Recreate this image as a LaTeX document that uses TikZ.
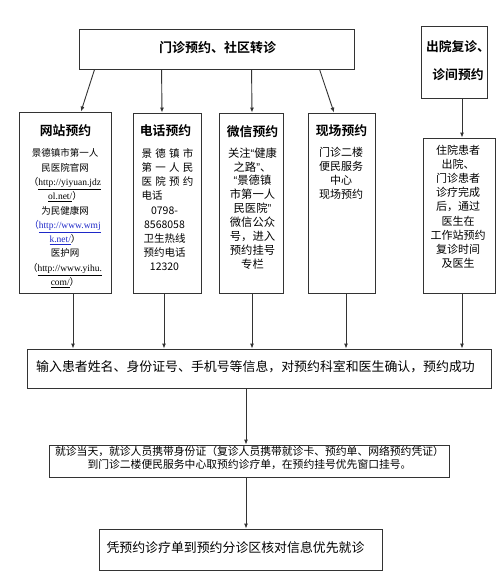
\documentclass[tikz,border=0pt]{standalone}
\usepackage{fontspec}
\setmainfont{Noto Sans CJK SC}[BoldFont={Noto Sans CJK SC Bold}]
\newfontfamily\urlf{Liberation Serif}
\newfontfamily\qf{Liberation Sans}
\newcommand{\oq}{{\qf “}}
\newcommand{\cq}{{\qf ”}}
\usetikzlibrary{arrows.meta}
\definecolor{linkblue}{RGB}{30,40,200}
\begin{document}
\begin{tikzpicture}[x=1pt,y=-1pt,
  box/.style={draw=black!80,line width=0.9pt,inner sep=0pt},
  arr/.style={draw=black!80,line width=0.9pt,-{Latex[length=5pt,width=4pt]}},
  ttl/.style={inner sep=0pt,font=\bfseries\fontsize{12.8}{16}\selectfont},
  body/.style={inner sep=0pt,align=center,anchor=north},
  txt/.style={inner sep=0pt,align=center}]
\useasboundingbox[fill=white] (0,0) rectangle (500,578);

% boxes
\node[box,minimum width=275pt,minimum height=40pt] (top) at (216.5,49) {};
\node[box,minimum width=66pt,minimum height=72pt] (rt) at (454,62) {};
\node[box,minimum width=92pt,minimum height=181pt] (web) at (65,202.5) {};
\node[box,minimum width=68pt,minimum height=180pt] (phone) at (167,203) {};
\node[box,minimum width=64pt,minimum height=180pt] (wechat) at (251,203) {};
\node[box,minimum width=67pt,minimum height=180pt] (field) at (341.5,203) {};
\node[box,minimum width=72pt,minimum height=155pt] (rb) at (459,215.5) {};
\node[box,minimum width=464pt,minimum height=39pt] (mid) at (259,368.5) {};
\node[box,minimum width=400pt,minimum height=32pt] (box2) at (249,461) {};
\node[box,minimum width=283pt,minimum height=41pt] (final) at (240.5,549.5) {};

% texts
\node[txt,font=\bfseries\fontsize{13}{16}\selectfont] (topt) at (217.5,48) {门诊预约、社区转诊};
\node[txt,font=\bfseries\fontsize{12.8}{28}\selectfont] (rtt) at (458,61) {出院复诊、\\诊间预约};

\node[ttl] (webt) at (65.5,131) {网站预约};
\node[body,font=\fontsize{9.5}{14.3}\selectfont] (webb) at (65,148.6) {%
景德镇市第一人\\
民医院官网\\
（\underline{\urlf http://yiyuan.jdz}\\
\underline{\urlf ol.net/}）\\
为民健康网\\
{\color{linkblue}（\underline{\urlf http://www.wmj}}\\
{\color{linkblue}\underline{\urlf k.net/}}）\\
医护网\\
（\underline{\urlf http://www.yihu.}\\
\underline{\urlf com/}）};

\node[ttl] (phonet) at (165.5,131) {电话预约};
\node[body,font=\fontsize{10.5}{14.2}\selectfont] (phoneb) at (167.5,148.2) {%
\makebox[52pt][s]{景\hfill 德\hfill 镇\hfill 市}\\
\makebox[52pt][s]{第\hfill 一\hfill 人\hfill 民}\\
\makebox[52pt][s]{医\hfill 院\hfill 预\hfill 约}\\
\makebox[52pt][l]{电话}\\
\makebox[52pt][l]{\makebox[46pt]{0798-}}\\
\makebox[52pt][l]{\makebox[46pt]{8568058}}\\
\makebox[52pt][l]{\makebox[46pt]{卫生热线}}\\
\makebox[52pt][l]{\makebox[46pt]{预约电话}}\\
\makebox[52pt][l]{\makebox[46pt]{12320}}};

\node[ttl] (wechatt) at (252.5,132) {微信预约};
\node[body,font=\fontsize{11.3}{13.9}\selectfont] (wechatb) at (252.5,147.3) {%
关注\oq 健康\\
之路\cq 、\\
\oq 景德镇\\
市第一人\\
民医院\cq\\
微信公众\\
号，进入\\
预约挂号\\
专栏};

\node[ttl] (fieldt) at (341.5,131) {现场预约};
\node[body,font=\fontsize{11}{14}\selectfont] (fieldb) at (341,147.4) {%
门诊二楼\\便民服务\\中心\\现场预约};

\node[body,font=\fontsize{11}{14.1}\selectfont] (rbb) at (458,145) {%
住院患者\\出院、\\门诊患者\\诊疗完成\\后，通过\\医生在\\工作站预约\\复诊时间\\及医生};

\node[txt,font=\fontsize{12.9}{16}\selectfont] (midt) at (255.5,367) {输入患者姓名、身份证号、手机号等信息，对预约科室和医生确认，预约成功};
\node[txt,font=\fontsize{10.8}{13}\selectfont] (box2t) at (249.5,458) {就诊当天，就诊人员携带身份证（复诊人员携带就诊卡、预约单、网络预约凭证）\\到门诊二楼便民服务中心取预约诊疗单，在预约挂号优先窗口挂号。};
\node[txt,font=\fontsize{12.9}{16}\selectfont] (finalt) at (235.5,548) {凭预约诊疗单到预约分诊区核对信息优先就诊};

% connectors
\draw[arr] ([xshift=16pt]top.south west) -- ([xshift=16pt]web.north);
\draw[arr] ([xshift=83pt]top.south west) -- ([xshift=-5pt]phone.north);
\draw[arr] ([xshift=173pt]top.south west) -- ([xshift=1pt]wechat.north);
\draw[arr] ([xshift=241pt]top.south west) -- ([xshift=-7.5pt]field.north);

\path ([xshift=8pt]rt.south) coordinate (c0);
\draw[arr] (c0) -- (c0 |- rb.north);

\path ([xshift=8pt]web.south) coordinate (c1);
\path ([xshift=-3pt]phone.south) coordinate (c2);
\path ([xshift=1pt]wechat.south) coordinate (c3);
\path ([xshift=4.5pt]field.south) coordinate (c4);
\path ([xshift=3pt]rb.south) coordinate (c5);
\foreach \c in {c1,c2,c3,c4,c5} \draw[arr] (\c) -- (\c |- mid.north);

\path ([xshift=-13pt]mid.south) coordinate (c6);
\draw[arr] (c6) -- (c6 |- box2.north);
\path ([xshift=-3pt]box2.south) coordinate (c7);
\draw[arr] (c7) -- (c7 |- final.north);
\end{tikzpicture}
\end{document}
